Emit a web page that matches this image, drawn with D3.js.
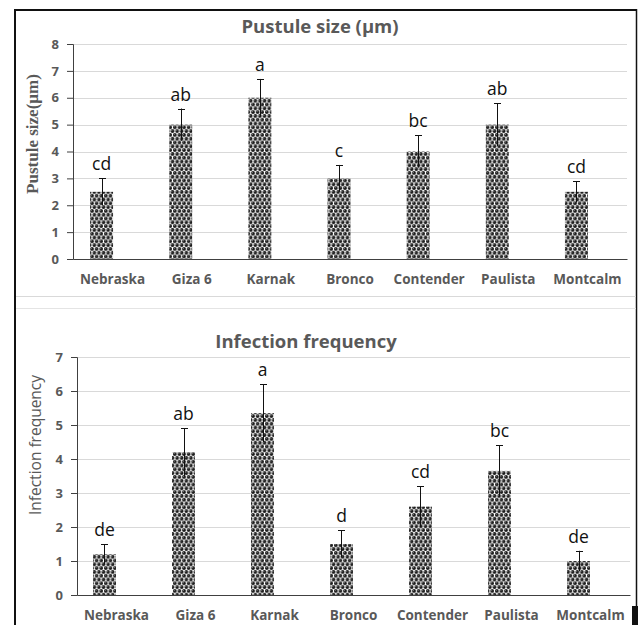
<!DOCTYPE html>
<html>
<head>
<meta charset="utf-8">
<script src="https://cdn.jsdelivr.net/npm/d3@7"></script>
<style>
  body { margin: 0; background: #fff; }
  svg { display: block; }
</style>
</head>
<body>
<div id="chart"></div>
<script>
const cultivars = ["Nebraska", "Giza 6", "Karnak", "Bronco", "Contender", "Paulista", "Montcalm"];

const pustuleSize = [2.5, 5, 6, 3, 4, 5, 2.5];
const pustuleErr = [0.5, 0.6, 0.7, 0.5, 0.6, 0.8, 0.4];
const pustuleLetters = ["cd", "ab", "a", "c", "bc", "ab", "cd"];
const pustuleTicks = [0, 1, 2, 3, 4, 5, 6, 7, 8];

const infFreq = [1.2, 4.2, 5.35, 1.5, 2.6, 3.65, 1.0];
const infErr = [0.3, 0.7, 0.85, 0.4, 0.6, 0.75, 0.3];
const infLetters = ["de", "ab", "a", "d", "cd", "bc", "de"];
const infTicks = [0, 1, 2, 3, 4, 5, 6, 7];

const W = 643, H = 625;
const svg = d3.select("#chart").append("svg")
    .attr("width", W)
    .attr("height", H);

// ball pattern fill for bars
const defs = svg.append("defs");
const pat = defs.append("pattern")
    .attr("id", "balls")
    .attr("patternUnits", "userSpaceOnUse")
    .attr("width", 4.6)
    .attr("height", 7.6);
pat.append("rect").attr("width", 4.6).attr("height", 7.6).attr("fill", "#ffffff");
[[2.3, 1.9], [0, 5.7], [4.6, 5.7]].forEach(c => {
    pat.append("circle").attr("cx", c[0]).attr("cy", c[1]).attr("r", 1.9).attr("fill", "#1a1a1a");
    pat.append("circle").attr("cx", c[0] - 0.6).attr("cy", c[1] - 0.6).attr("r", 0.5).attr("fill", "#999");
});

// frame
svg.append("rect").attr("x", 0).attr("y", 0).attr("width", W).attr("height", H).attr("fill", "#fff");
svg.append("line").attr("x1", 15).attr("x2", 15).attr("y1", 9).attr("y2", H).attr("stroke", "#111").attr("stroke-width", 2);
svg.append("line").attr("x1", 14).attr("x2", 637).attr("y1", 10).attr("y2", 10).attr("stroke", "#111").attr("stroke-width", 2);
svg.append("line").attr("x1", 636.5).attr("x2", 636.5).attr("y1", 9).attr("y2", H).attr("stroke", "#111").attr("stroke-width", 1.5);
svg.append("rect").attr("x", 632).attr("y", 606).attr("width", 6).attr("height", 19).attr("fill", "#111");
svg.append("line").attr("x1", 16).attr("x2", 636).attr("y1", 296.5).attr("y2", 296.5).attr("stroke", "#d9d9d9");
svg.append("line").attr("x1", 16).attr("x2", 636).attr("y1", 308.5).attr("y2", 308.5).attr("stroke", "#e4e4e4");

function drawPanel(opt) {
    const x = d3.scaleBand()
        .domain(cultivars)
        .range([opt.left, opt.right]);

    // bars sit a little left of their category labels in the original
    const xb = d3.scaleBand()
        .domain(cultivars)
        .range([opt.left - opt.shift, opt.right - opt.shift])
        .paddingInner(0.71)
        .paddingOuter(0.355);

    const y = d3.scaleLinear()
        .domain([0, d3.max(opt.ticks)])
        .range([opt.bottom, opt.top]);

    const g = svg.append("g");

    // gridlines
    g.selectAll(".grid")
        .data(opt.ticks.filter(t => t > 0))
        .enter()
        .append("line")
        .attr("x1", opt.left)
        .attr("x2", opt.right)
        .attr("y1", d => Math.round(y(d)) + 0.5)
        .attr("y2", d => Math.round(y(d)) + 0.5)
        .attr("stroke", "#d9d9d9")
        .attr("stroke-width", 1);

    // y axis
    const yAxis = g.append("g")
        .attr("transform", `translate(${opt.left},0)`)
        .call(d3.axisLeft(y).tickValues(opt.ticks).tickSize(6).tickPadding(8).tickFormat(d3.format("d")));
    yAxis.select(".domain").attr("stroke", "#404040");
    yAxis.selectAll(".tick line").attr("stroke", "#404040");
    yAxis.selectAll("text")
        .style("font-family", "'Open Sans', sans-serif")
        .style("font-weight", "bold")
        .style("font-size", "13px")
        .attr("fill", "#595959");

    // x axis
    const xAxis = g.append("g")
        .attr("transform", `translate(0,${opt.bottom})`)
        .call(d3.axisBottom(x).tickSize(0).tickPadding(15));
    xAxis.select(".domain").attr("stroke", "#404040").attr("stroke-width", 1.2);
    xAxis.selectAll("text")
        .style("font-family", "'Open Sans', sans-serif")
        .style("font-weight", "bold")
        .style("font-size", "13.5px")
        .attr("fill", "#595959");

    const data = cultivars.map((c, i) => ({ name: c, value: opt.values[i], err: opt.errs[i], letter: opt.letters[i] }));

    // bars
    g.selectAll(".bar")
        .data(data)
        .enter()
        .append("rect")
        .attr("x", d => xb(d.name))
        .attr("y", d => y(d.value))
        .attr("width", xb.bandwidth())
        .attr("height", d => opt.bottom - y(d.value))
        .attr("fill", "url(#balls)");

    // error bars
    const cx = d => Math.round(xb(d.name) + xb.bandwidth() / 2) + 0.5;
    g.selectAll(".err")
        .data(data)
        .enter()
        .append("line")
        .attr("x1", cx)
        .attr("x2", cx)
        .attr("y1", d => y(d.value - d.err))
        .attr("y2", d => y(d.value + d.err))
        .attr("stroke", "#111")
        .attr("stroke-width", 1);
    g.selectAll(".cap")
        .data(data)
        .enter()
        .append("line")
        .attr("x1", d => cx(d) - 3.5)
        .attr("x2", d => cx(d) + 3.5)
        .attr("y1", d => Math.round(y(d.value + d.err)) + 0.5)
        .attr("y2", d => Math.round(y(d.value + d.err)) + 0.5)
        .attr("stroke", "#111")
        .attr("stroke-width", 1);

    // significance letters
    g.selectAll(".letter")
        .data(data)
        .enter()
        .append("text")
        .attr("x", d => xb(d.name) + xb.bandwidth() / 2)
        .attr("y", d => y(d.value + d.err) - 8)
        .attr("text-anchor", "middle")
        .style("font-family", "'Open Sans', sans-serif")
        .style("font-size", "17.5px")
        .attr("fill", "#111")
        .text(d => d.letter);

    // title
    svg.append("text")
        .attr("x", opt.titleX)
        .attr("y", opt.titleY)
        .attr("text-anchor", "middle")
        .style("font-family", "'Open Sans', sans-serif")
        .style("font-weight", "bold")
        .style("font-size", "18.5px")
        .attr("fill", "#595959")
        .text(opt.title);

    // y axis title
    svg.append("text")
        .attr("transform", `translate(${opt.yLabelX},${opt.yLabelY})rotate(-90)`)
        .attr("text-anchor", "middle")
        .style("font-family", opt.yLabelFont)
        .style("font-weight", opt.yLabelWeight)
        .style("font-size", opt.yLabelSize)
        .attr("fill", "#595959")
        .text(opt.yLabel);
}

drawPanel({
    left: 73, right: 627, top: 44, bottom: 259, shift: 11,
    ticks: pustuleTicks, values: pustuleSize, errs: pustuleErr, letters: pustuleLetters,
    title: "Pustule size (\u00b5m)", titleX: 320, titleY: 33,
    yLabel: "Pustule size(\u00b5m)", yLabelX: 38, yLabelY: 134,
    yLabelFont: "'Liberation Serif', serif", yLabelWeight: "bold", yLabelSize: "17px"
});

drawPanel({
    left: 77, right: 630, top: 357, bottom: 595, shift: 12,
    ticks: infTicks, values: infFreq, errs: infErr, letters: infLetters,
    title: "Infection frequency", titleX: 306, titleY: 348,
    yLabel: "Infection frequency", yLabelX: 41, yLabelY: 445,
    yLabelFont: "'Open Sans', sans-serif", yLabelWeight: "normal", yLabelSize: "15.5px"
});
</script>
</body>
</html>
